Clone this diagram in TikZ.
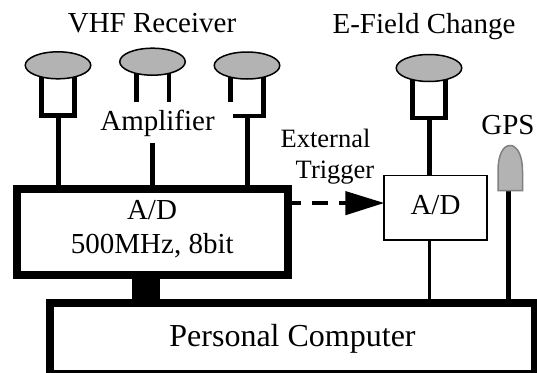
\documentclass[tikz,border=0pt]{standalone}
\usepackage{fontspec}
\setmainfont{Liberation Serif}
\usetikzlibrary{shapes.geometric,arrows.meta}
\definecolor{dishgray}{HTML}{B3B3B3}
\definecolor{gpsedge}{HTML}{808080}
\tikzset{
  dish/.style={ellipse,draw=black,line width=1.5pt,fill=dishgray,minimum width=65.5pt,minimum height=27pt,inner sep=0pt,outer sep=0pt},
  thickbox/.style={rectangle,draw=black,line width=8pt,fill=white,inner sep=0pt,outer sep=0pt},
  ampbox/.style={rectangle,draw=black,line width=4.5pt,inner sep=0pt,outer sep=0pt,minimum width=33pt,minimum height=41pt},
  thinbox/.style={rectangle,draw=black,line width=1.7pt,fill=white,inner sep=0pt,outer sep=0pt},
  stem/.style={line width=4.6pt,black},
  label/.style={inner sep=0pt,outer sep=0pt,anchor=base,align=center},
  big/.style={label,font=\fontsize{29}{32}\selectfont},
  mid/.style={label,font=\fontsize{26.5}{29}\selectfont},
}
\begin{document}
\begin{tikzpicture}[x=1pt,y=-1pt]
\useasboundingbox (0,0) rectangle (537,372);
\clip (0,0) rectangle (537,372);
% boxes
\node[thickbox,minimum width=271.6pt,minimum height=86.6pt] (main) at (152.5,232) {};
\node[thickbox,minimum width=485.5pt,minimum height=70.2pt] (pc) at (292.25,338.4) {};
\node[thinbox,minimum width=103.3pt,minimum height=64.7pt] (ad) at (435.6,207.7) {};
% amplifier brackets
\node[ampbox,anchor=south] (ampL) at (58.2,115.7) {};
\node[ampbox,anchor=south] (ampE) at (429.2,118) {};
\coordinate (ampMl) at (136.3,101.7);
\coordinate (ampMr) at (169,101.7);
\coordinate (ampMs) at (152.3,143);
\coordinate (ampRl) at (230.7,101.7);
\coordinate (ampRb) at (233,116);
\coordinate (ampRc) at (263.7,116);
\coordinate (ampRs) at (247.3,116);
\coordinate (adb) at (429,240);
\coordinate (bus) at (146,290);
% dishes
\draw[stem] (ampMl) -- (136.3,65);
\draw[stem] (ampMr) -- (169,65);
\draw[stem] (ampRl) -- (230.7,70);
\draw[stem] (ampRb) -- (ampRc) -- (263.7,70);
\node[dish] (d1) at (58,65.3) {};
\node[dish] (d2) at (152.5,61.7) {};
\node[dish] (d3) at (247,65.5) {};
\node[dish] (d4) at (429,68) {};
% stems
\draw[stem] (ampL.south) -- (main.north -| ampL.south);
\draw[stem] (ampMs) -- (main.north -| ampMs);
\draw[stem] (ampRs) -- (main.north -| ampRs);
\draw[stem] (ampE.south) -- (ad.north -| ampE.south);
\draw[line width=27.5pt] (main.south -| bus) -- (pc.north -| bus);
\draw[line width=3pt] (adb) -- (pc.north -| adb);
% GPS
\node[inner sep=0pt,outer sep=0pt,minimum size=0pt] (gpsb) at (508.5,190.5) {};
\draw[stem] (gpsb) -- (pc.north -| gpsb);
\draw[gpsedge,fill=dishgray,line width=1.5pt] (498,190.5) -- (498,171) .. controls (498,155) and (503,145.5) .. (510,145.5) .. controls (517,145.5) and (522.5,155) .. (522.5,171) -- (522.5,190.5) -- cycle;
% trigger
\coordinate (tipy) at (0,203);
\coordinate (tip) at (ad.west |- tipy);
\draw[line width=3.3pt,dash pattern=on 13pt off 11pt on 16pt off 11pt on 8pt off 100pt] (main.east |- tip) -- (tip);
\fill (345.3,191) -- (tip) -- (345.3,215.3) -- cycle;
% texts
\node[big] (t1) at (152,32.5) {VHF Receiver};
\node[big] (t2) at (424,33.3) {E-Field Change};
\node[big] (t3) at (157.5,130) {Amplifier};
\node[mid] (t4) at (325.5,147.3) {External};
\node[mid] (t5) at (335,178) {Trigger};
\node[big] (t6) at (508,134) {GPS};
\node[big] (t7) at (435.5,214.3) {A/D};
\node[big] (t8) at (152,219) {A/D};
\node[big] (t9) at (152.3,253.3) {500MHz, 8bit};
\node[label,font=\fontsize{32}{34}\selectfont] (t10) at (292.5,346.7) {Personal Computer};
\end{tikzpicture}
\end{document}
